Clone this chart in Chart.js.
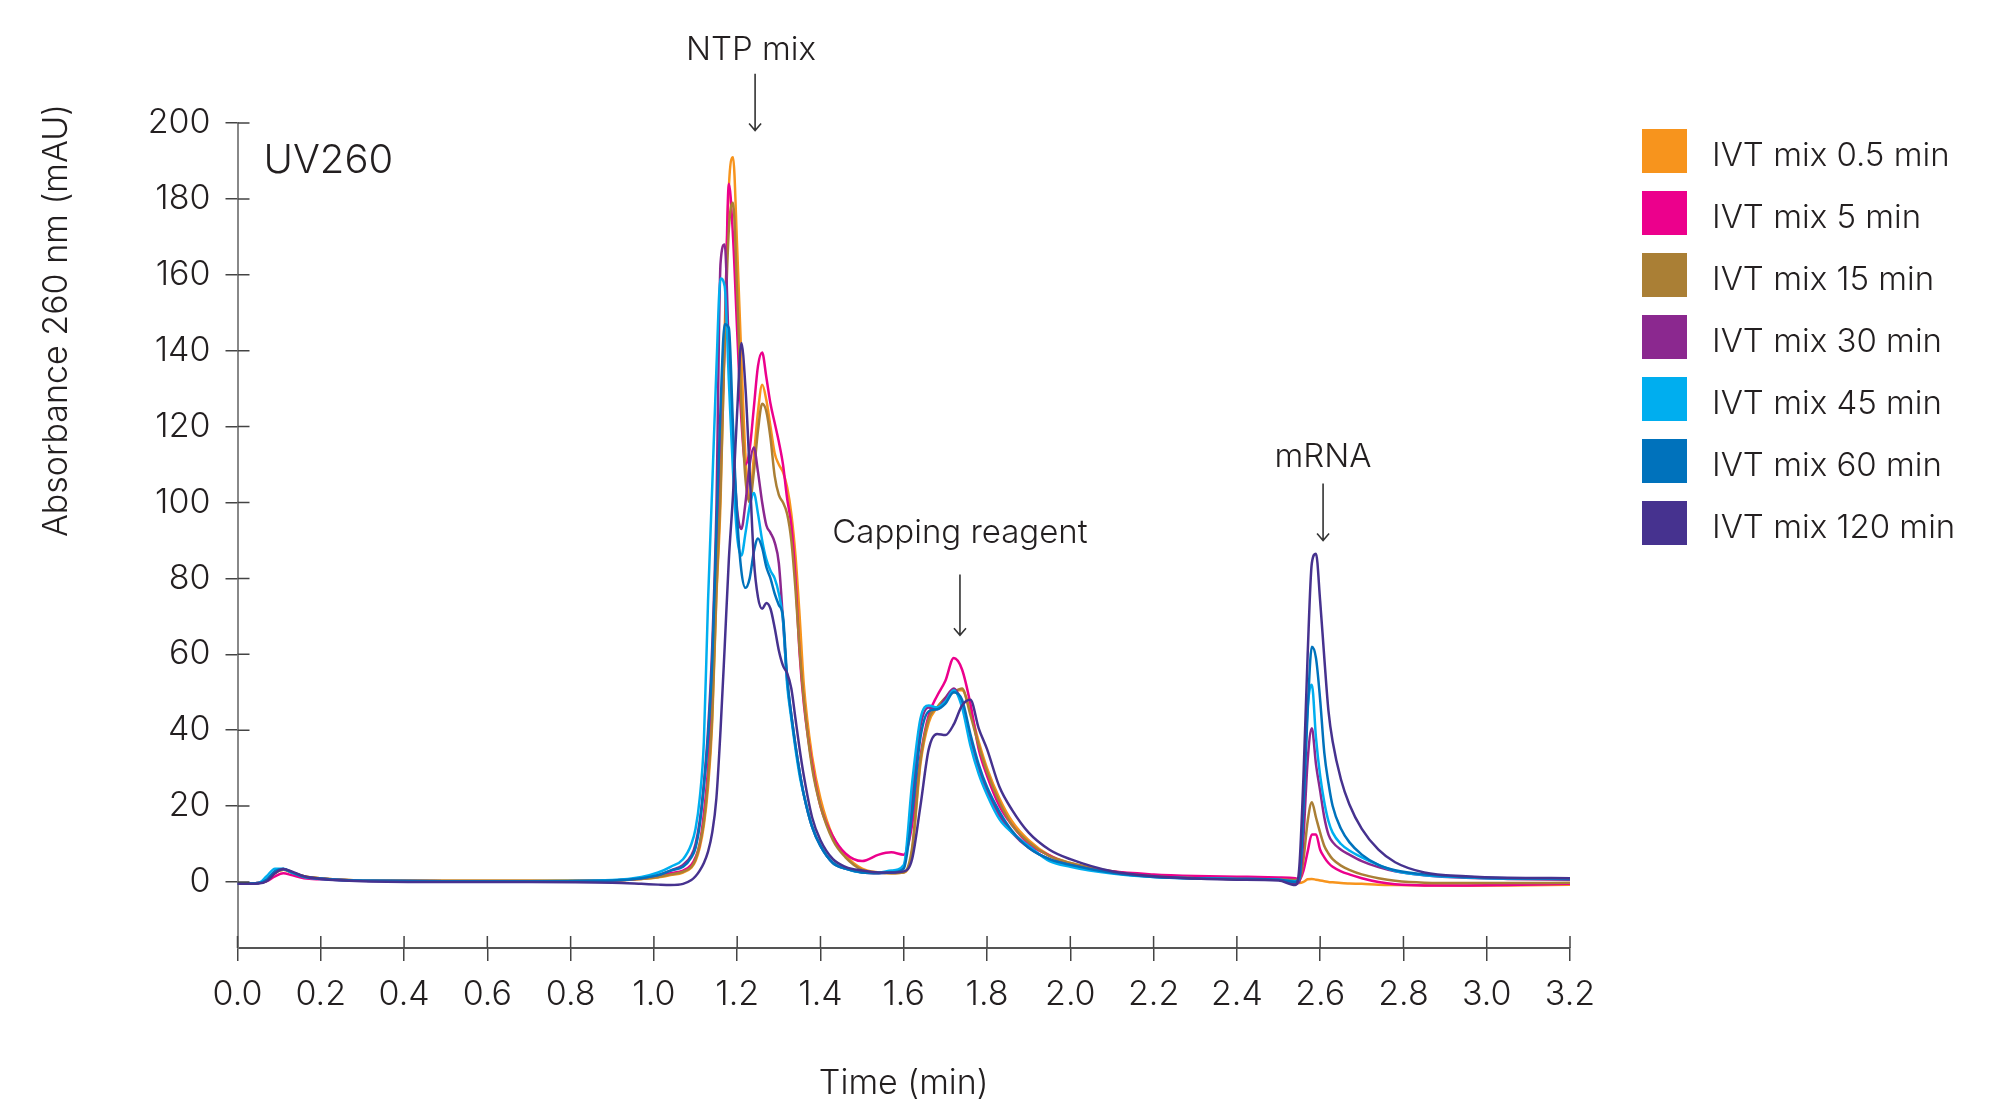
<!DOCTYPE html>
<html>
<head>
<meta charset="utf-8">
<script src="https://cdn.jsdelivr.net/npm/chart.js@4.4.1/dist/chart.umd.min.js"></script>
<style>
  html, body { margin: 0; padding: 0; background: #fff; }
  #wrap { width: 1993px; height: 1100px; }
</style>
</head>
<body>
<div id="wrap"><canvas id="myChart" width="1993" height="1100"></canvas></div>
<script>
// Tiempo (min) - rejilla común a todas las series
const time = [
  0.00, 0.05, 0.07, 0.09, 0.11, 0.13, 0.16, 0.20, 0.30, 0.50,
  0.70, 0.90, 0.97, 1.01, 1.04, 1.07, 1.09, 1.10, 1.11, 1.12,
  1.13, 1.14, 1.15, 1.16, 1.17, 1.18, 1.19, 1.20, 1.21, 1.22,
  1.23, 1.24, 1.25, 1.26, 1.27, 1.28, 1.29, 1.30, 1.31, 1.32,
  1.33, 1.34, 1.35, 1.36, 1.38, 1.40, 1.43, 1.46, 1.50, 1.54,
  1.57, 1.60, 1.62, 1.64, 1.66, 1.68, 1.70, 1.72, 1.74, 1.76,
  1.78, 1.80, 1.83, 1.86, 1.90, 1.95, 2.00, 2.10, 2.20, 2.30,
  2.40, 2.50, 2.54, 2.55, 2.56, 2.57, 2.58, 2.59, 2.60, 2.61,
  2.62, 2.63, 2.65, 2.67, 2.70, 2.74, 2.78, 2.85, 2.95, 3.05, 3.20
]

// Absorbancia 260 nm (mAU) por muestra
const mix05 = [
  -0.5, -0.3, 0.3, 2.4, 3.2, 2.5, 1.5, 1.0, 0.4, 0.3,
  0.3, 0.4, 0.8, 1.2, 1.8, 2.5, 3.8, 5.5, 9, 15,
  25, 42, 75, 100, 145, 183, 191, 167, 138, 112,
  101, 112, 124, 131, 127, 120, 113, 110, 108, 104,
  97, 86, 70, 52, 33, 22, 12, 7, 3.5, 2.5,
  2.3, 2.5, 8, 31, 42, 46, 48.5, 50.5, 50.5, 45,
  37, 30, 22, 16, 11, 7, 5, 2.8, 1.5, 1,
  0.8, 0.6, 0.5, -0.3, 0, 0.7, 0.8, 0.6, 0.4, 0.2,
  0, -0.1, -0.3, -0.4, -0.5, -0.7, -0.8, -0.9, -1, -0.9, -0.7
]
const mix5 = [
  -0.5, -0.3, 0.2, 1.5, 2.3, 1.8, 1.0, 0.7, 0.3, 0.2,
  0.2, 0.4, 0.9, 1.5, 2.3, 3, 4.5, 6.5, 10, 18,
  30, 52, 82, 113, 142, 184, 170, 145, 122, 110,
  114, 125, 136, 139.5, 133, 126, 121, 116, 110, 101,
  94, 80, 60, 47, 31, 20, 12, 7.5, 5.5, 7.2,
  7.8, 7.2, 15, 33, 44, 49, 53, 59, 56, 47,
  35, 28, 20, 15, 10, 7, 4.6, 2.8, 2, 1.6,
  1.4, 1.2, 1.0, 0.5, 3, 8, 12.5, 12.5, 8.5, 6.5,
  5, 4, 2.8, 2, 1, 0, -0.6, -0.9, -0.9, -0.8, -0.5
]
const mix15 = [
  -0.5, -0.3, 0.3, 2.4, 3.2, 2.5, 1.5, 1.0, 0.4, 0.3,
  0.3, 0.4, 0.8, 1.3, 2, 2.7, 4, 6, 10, 16,
  27, 44, 76, 103, 142, 172, 179, 155, 126, 106,
  100, 108, 119, 126, 124, 117, 107, 102, 100, 97,
  90, 77, 61, 48, 30, 20, 11, 6.5, 3.2, 2.5,
  2.3, 2.5, 9, 32, 43, 46, 48.5, 50, 51, 44,
  36, 29, 21, 15, 10.5, 6.8, 5, 2.7, 1.5, 1,
  0.8, 0.6, 0.5, 0.5, 6, 16, 21, 17, 13, 9.5,
  7.5, 6, 4.3, 3.2, 2, 1, 0.3, -0.2, -0.3, -0.3, -0.2
]
const mix30 = [
  -0.5, -0.3, 0.5, 2.8, 3.4, 2.5, 1.4, 0.9, 0.3, 0.2,
  0.2, 0.4, 1, 1.8, 3, 4.5, 7, 10, 16, 26,
  40, 62, 98, 163, 168, 140, 115, 98, 93, 100,
  110, 114.5, 108, 100, 94, 92, 89.5, 84, 69, 53,
  44, 36, 29, 23, 14.5, 9.5, 5, 3.5, 2.5, 2.3,
  2.5, 4, 22, 41, 46, 45.5, 48.5, 51, 47, 38,
  30, 24, 17.5, 13, 9, 6, 4.5, 2.5, 1.4, 1,
  0.8, 0.6, -0.6, 0, 12, 32, 40.5, 31, 24, 17,
  12.5, 10.5, 8.5, 7.2, 5.5, 3.9, 2.8, 1.8, 1.1, 0.8, 0.6
]
const mix45 = [
  -0.5, -0.3, 1.5, 3.5, 3.5, 2.5, 1.3, 0.8, 0.3, 0.2,
  0.2, 0.5, 1.3, 2.5, 4, 6, 10, 14, 22, 37,
  74, 104, 135, 159, 157, 132, 108, 91, 86, 92,
  99, 102.5, 97, 90, 85, 82, 80, 76, 69, 52,
  43, 35, 28, 23, 14.5, 9.5, 5, 3.5, 2.5, 2.5,
  3, 4.5, 26, 43, 46.5, 46, 47.5, 50.5, 46, 36,
  28.5, 23, 16.5, 13, 9.5, 5.5, 4, 2.2, 1.3, 1,
  0.8, 0.6, 0.2, 1, 22, 46, 52, 38, 28, 21,
  16, 13, 10, 8.3, 6.5, 4.5, 2.9, 1.8, 1.2, 0.9, 0.8
]
const mix60 = [
  -0.5, -0.3, 0.6, 2.8, 3.4, 2.6, 1.4, 0.9, 0.3, 0.2,
  0.2, 0.4, 1, 1.8, 3, 4, 6.5, 9, 15, 25,
  38, 58, 92, 125, 147, 146, 120, 96, 82, 77.5,
  80, 87, 90.5, 88, 83, 80, 76, 73, 70, 54,
  44, 36, 29, 23, 14.5, 9.5, 5, 3.5, 2.5, 2.3,
  2.5, 3.5, 18, 38, 45, 45.5, 47, 50, 48, 39,
  31, 25, 18.5, 13.5, 9, 6, 4.5, 2.4, 1.3, 0.9,
  0.8, 0.6, 0, 1, 20, 45, 62, 59, 48, 34,
  26, 20, 14, 10.5, 7.2, 4.5, 3.1, 2, 1.3, 1, 0.9
]
const mix120 = [
  -0.5, -0.4, 0.2, 2.3, 3.4, 2.8, 1.5, 0.8, 0.2, 0,
  0, -0.2, -0.5, -0.7, -0.8, -0.5, 0.5, 1.5, 3, 5,
  8, 13, 22, 40, 62, 85, 102, 124, 142, 130,
  108, 85, 75, 72, 73.5, 72, 67, 61, 57, 55,
  51, 43, 35, 28, 17, 11, 6, 4, 3, 2.5,
  2.5, 2.8, 6, 20, 35, 39, 38.7, 41.5, 46.5, 48,
  40.5, 35, 25, 19, 13, 8.5, 6, 2.8, 1.5, 0.9,
  0.6, 0.4, -0.8, 4, 28, 60, 84, 86.5, 74, 59,
  45, 37, 27, 20.5, 14, 8.5, 5.2, 2.5, 1.5, 1.1, 1
]

const seriesNames = [
  'IVT mix 0.5 min', 'IVT mix 5 min', 'IVT mix 15 min', 'IVT mix 30 min',
  'IVT mix 45 min', 'IVT mix 60 min', 'IVT mix 120 min'
]
const seriesValues = [mix05, mix5, mix15, mix30, mix45, mix60, mix120]
const seriesColors = ['#F7941D', '#EC008C', '#AA7F35', '#8B288F', '#00AEEF', '#0072BC', '#46328F']

// Ejes
const xTicks = [0, 0.2, 0.4, 0.6, 0.8, 1.0, 1.2, 1.4, 1.6, 1.8, 2.0, 2.2, 2.4, 2.6, 2.8, 3.0, 3.2]
const yTicks = [0, 20, 40, 60, 80, 100, 120, 140, 160, 180, 200]

// Anotaciones de los picos: [texto, x del texto, y del texto, x flecha, y inicio, y fin]
const peakNotes = [
  ['NTP mix', 1.233, 219.3, 1.243, 213, 198],
  ['Capping reagent', 1.735, 92, 1.735, 81, 65],
  ['mRNA', 2.607, 112, 2.607, 105, 90]
]

const textColor = '#231F20'
const fontFamily = 'Inter, "Open Sans", sans-serif'

Chart.defaults.font.family = fontFamily
Chart.defaults.color = textColor

// Marcas de eje hacia dentro (las de fuera las dibuja Chart.js)
const innerTicks = {
  id: 'innerTicks',
  afterDraw(chart) {
    const { ctx, chartArea, scales } = chart
    ctx.save()
    ctx.strokeStyle = '#444'
    ctx.lineWidth = 1.5
    ctx.beginPath()
    yTicks.forEach(v => {
      const y = scales.y.getPixelForValue(v)
      ctx.moveTo(chartArea.left, y)
      ctx.lineTo(chartArea.left + 12, y)
    })
    xTicks.forEach(v => {
      const x = scales.x.getPixelForValue(v)
      ctx.moveTo(x, chartArea.bottom)
      ctx.lineTo(x, chartArea.bottom - 12)
    })
    ctx.stroke()
    ctx.restore()
  }
}

// Título del eje Y, texto UV260, flechas de los picos y leyenda lateral
const notes = {
  id: 'notes',
  afterDraw(chart) {
    const { ctx, chartArea, scales } = chart
    ctx.save()
    ctx.fillStyle = textColor
    ctx.strokeStyle = '#333'
    ctx.lineWidth = 1.6

    // título del eje Y, arrimado arriba como en el original
    ctx.save()
    ctx.translate(57, chartArea.top - 19)
    ctx.rotate(-Math.PI / 2)
    ctx.font = '300 34px ' + fontFamily
    ctx.textAlign = 'right'
    ctx.textBaseline = 'middle'
    ctx.fillText('Absorbance 260 nm (mAU)', 0, 0)
    ctx.restore()

    ctx.font = '300 40px ' + fontFamily
    ctx.textAlign = 'left'
    ctx.textBaseline = 'middle'
    ctx.fillText('UV260', chartArea.left + 26, chartArea.top + 38)

    ctx.font = '300 33px ' + fontFamily
    ctx.textAlign = 'center'
    peakNotes.forEach(([label, tx, ty, ax, y0, y1]) => {
      ctx.fillText(label, scales.x.getPixelForValue(tx), scales.y.getPixelForValue(ty))
      const x = scales.x.getPixelForValue(ax)
      const top = scales.y.getPixelForValue(y0)
      const tip = scales.y.getPixelForValue(y1)
      ctx.beginPath()
      ctx.moveTo(x, top)
      ctx.lineTo(x, tip)
      ctx.moveTo(x - 6, tip - 7)
      ctx.lineTo(x, tip)
      ctx.lineTo(x + 6, tip - 7)
      ctx.stroke()
    })

    // Leyenda
    ctx.font = '300 33px ' + fontFamily
    ctx.textAlign = 'left'
    chart.data.datasets.forEach((ds, i) => {
      const y = 129 + i * 62
      ctx.fillStyle = ds.borderColor
      ctx.fillRect(chartArea.right + 72, y, 45, 44)
      ctx.fillStyle = textColor
      ctx.fillText(ds.label, chartArea.right + 142, y + 27)
    })
    ctx.restore()
  }
}

const data = {
  datasets: seriesNames.map((name, i) => ({
    label: name,
    data: time.map((t, k) => ({ x: t, y: seriesValues[i][k] })),
    borderColor: seriesColors[i],
    backgroundColor: seriesColors[i],
    borderWidth: 2.5,
    pointRadius: 0,
    cubicInterpolationMode: 'monotone',
    fill: false,
    order: seriesNames.length - i
  }))
}

const options = {
  responsive: false,
  animation: false,
  layout: { padding: { top: 123, right: 423, bottom: 0, left: 0 } },
  plugins: {
    legend: { display: false },
    tooltip: { enabled: false }
  },
  scales: {
    x: {
      type: 'linear',
      min: 0,
      max: 3.2,
      afterFit: scale => { scale.height = 152 },
      afterBuildTicks: scale => { scale.ticks = xTicks.map(v => ({ value: v })) },
      border: { color: '#555', width: 2 },
      grid: { drawOnChartArea: false, tickLength: 13, color: '#444', lineWidth: 1.5 },
      ticks: {
        padding: 13,
        maxRotation: 0,
        font: { size: 34, weight: 300 },
        callback: v => v.toFixed(1)
      },
      title: {
        display: true,
        text: 'Time (min)',
        font: { size: 34, weight: 300 },
        padding: { top: 0, bottom: -4 }
      }
    },
    y: {
      min: -17.4,
      max: 200,
      afterFit: scale => { scale.width = 237.5 },
      afterBuildTicks: scale => { scale.ticks = yTicks.map(v => ({ value: v })) },
      border: { color: '#888', width: 2 },
      grid: { drawOnChartArea: false, tickLength: 12, color: '#444', lineWidth: 1.5 },
      ticks: {
        padding: 15,
        font: { size: 34, weight: 300 }
      }
    }
  }
}

const ctx = document.getElementById('myChart').getContext('2d')
const myChart = new Chart(ctx, {
  type: 'line',
  data: data,
  options: options,
  plugins: [innerTicks, notes]
})
</script>
</body>
</html>
